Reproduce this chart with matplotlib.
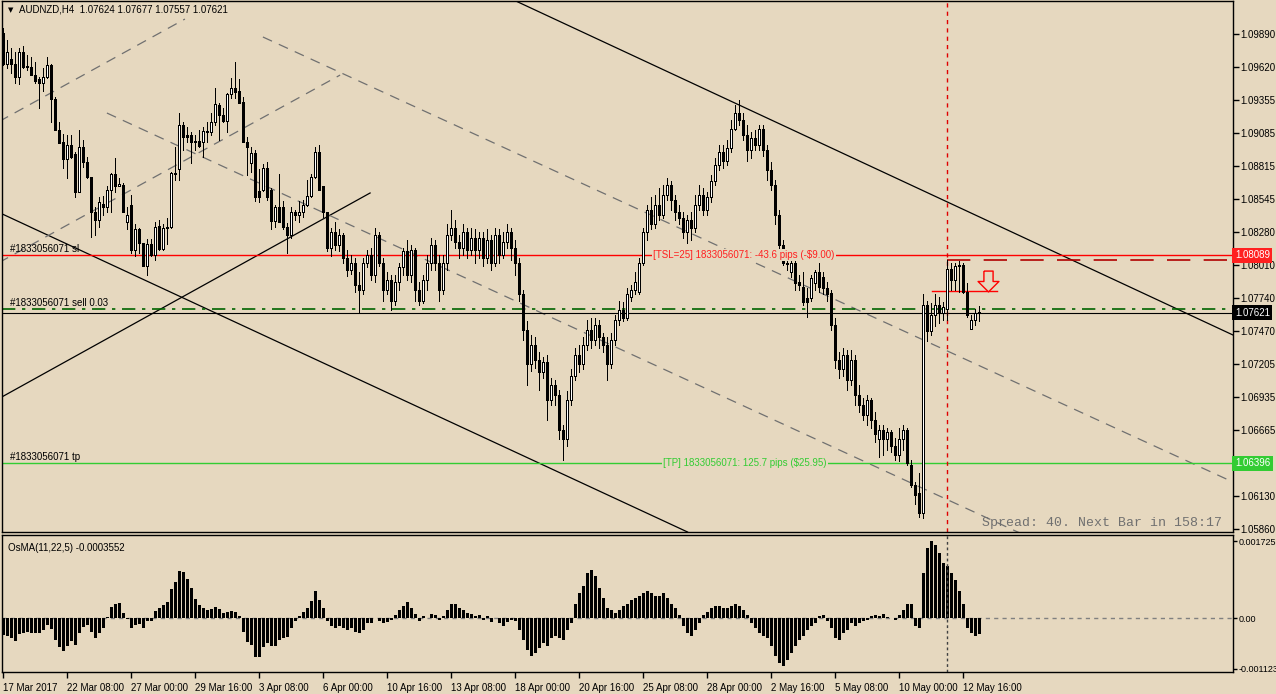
import matplotlib.pyplot as plt
from matplotlib.path import Path
from matplotlib import transforms

plt.rcParams['font.family'] = ['Liberation Sans', 'DejaVu Sans']

BG = '#E6D8BF'

# AUDNZD H4 candles, bar 0 = first bar on the left edge, 245 bars
opens = [1.0990, 1.0965, 1.0969, 1.0965, 1.0954, 1.0974, 1.0963, 1.0962, 1.0956, 1.0952,
         1.0949, 1.0954, 1.0964, 1.0936, 1.0911, 1.0901, 1.0887, 1.0899, 1.0891, 1.0860,
         1.0897, 1.0885, 1.0873, 1.0844, 1.0838, 1.0851, 1.0848, 1.0862, 1.0875, 1.0865,
         1.0866, 1.0836, 1.0850, 1.0813, 1.0830, 1.0819, 1.0800, 1.0818, 1.0809, 1.0833,
         1.0814, 1.0831, 1.0832, 1.0876, 1.0879, 1.0915, 1.0907, 1.0907, 1.0902, 1.0902,
         1.0901, 1.0910, 1.0909, 1.0917, 1.0931, 1.0923, 1.0918, 1.0940, 1.0945, 1.0943,
         1.0934, 1.0901, 1.0884, 1.0892, 1.0861, 1.0862, 1.0880, 1.0862, 1.0837, 1.0848,
         1.0848, 1.0832, 1.0825, 1.0844, 1.0842, 1.0844, 1.0850, 1.0857, 1.0873, 1.0893,
         1.0865, 1.0844, 1.0815, 1.0828, 1.0817, 1.0825, 1.0807, 1.0797, 1.0803, 1.0785,
         1.0781, 1.0803, 1.0809, 1.0793, 1.0825, 1.0803, 1.0781, 1.0789, 1.0772, 1.0787,
         1.0799, 1.0812, 1.0793, 1.0813, 1.0781, 1.0772, 1.0789, 1.0803, 1.0817, 1.0803,
         1.0781, 1.0803, 1.0825, 1.0831, 1.0820, 1.0815, 1.0828, 1.0813, 1.0823, 1.0813,
         1.0823, 1.0807, 1.0821, 1.0803, 1.0825, 1.0809, 1.0820, 1.0828, 1.0815, 1.0803,
         1.0777, 1.0748, 1.0720, 1.0736, 1.0724, 1.0714, 1.0722, 1.0691, 1.0703, 1.0695,
         1.0667, 1.0659, 1.0691, 1.0711, 1.0728, 1.0720, 1.0736, 1.0748, 1.0740, 1.0752,
         1.0742, 1.0736, 1.0720, 1.0740, 1.0756, 1.0764, 1.0758, 1.0775, 1.0781, 1.0779,
         1.0803, 1.0828, 1.0846, 1.0834, 1.0850, 1.0842, 1.0858, 1.0866, 1.0854, 1.0844,
         1.0839, 1.0828, 1.0838, 1.0831, 1.0850, 1.0858, 1.0846, 1.0856, 1.0869, 1.0882,
         1.0893, 1.0886, 1.0896, 1.0912, 1.0925, 1.0919, 1.0907, 1.0895, 1.0904, 1.0899,
         1.0912, 1.0895, 1.0878, 1.0866, 1.0842, 1.0817, 1.0803, 1.0795, 1.0803, 1.0787,
         1.0783, 1.0774, 1.0774, 1.0786, 1.0795, 1.0791, 1.0782, 1.0778, 1.0752, 1.0724,
         1.0716, 1.0728, 1.0707, 1.0724, 1.0695, 1.0687, 1.0679, 1.0691, 1.0675, 1.0659,
         1.0667, 1.0659, 1.0665, 1.0654, 1.0646, 1.0659, 1.0667, 1.0638, 1.0622, 1.0615,
         1.0599, 1.0768, 1.0747, 1.0760, 1.0768, 1.0762, 1.0765, 1.0798, 1.0789, 1.0801,
         1.0801, 1.0779, 1.0749, 1.0756, 1.07624]
highs = [1.0994, 1.0984, 1.0978, 1.0974, 1.0978, 1.0979, 1.0972, 1.0970, 1.0966, 1.0954,
         1.0961, 1.0970, 1.0965, 1.0938, 1.0917, 1.0908, 1.0907, 1.0907, 1.0893, 1.0911,
         1.0903, 1.0889, 1.0873, 1.0848, 1.0856, 1.0857, 1.0865, 1.0876, 1.0888, 1.0872,
         1.0868, 1.0848, 1.0858, 1.0834, 1.0831, 1.0819, 1.0822, 1.0822, 1.0836, 1.0838,
         1.0834, 1.0839, 1.0877, 1.0897, 1.0925, 1.0917, 1.0913, 1.0909, 1.0907, 1.0911,
         1.0913, 1.0917, 1.0925, 1.0945, 1.0933, 1.0929, 1.0941, 1.0953, 1.0966, 1.0952,
         1.0938, 1.0905, 1.0897, 1.0895, 1.0879, 1.0883, 1.0885, 1.0864, 1.0850, 1.0875,
         1.0853, 1.0835, 1.0848, 1.0846, 1.0853, 1.0854, 1.0870, 1.0875, 1.0897, 1.0899,
         1.0865, 1.0844, 1.0831, 1.0836, 1.0830, 1.0827, 1.0813, 1.0809, 1.0807, 1.0795,
         1.0807, 1.0813, 1.0815, 1.0831, 1.0828, 1.0807, 1.0795, 1.0793, 1.0793, 1.0803,
         1.0815, 1.0821, 1.0817, 1.0815, 1.0787, 1.0793, 1.0809, 1.0823, 1.0821, 1.0809,
         1.0809, 1.0834, 1.0846, 1.0838, 1.0825, 1.0834, 1.0831, 1.0831, 1.0830, 1.0828,
         1.0828, 1.0830, 1.0825, 1.0831, 1.0830, 1.0828, 1.0834, 1.0831, 1.0821, 1.0807,
         1.0781, 1.0755, 1.0744, 1.0742, 1.0730, 1.0726, 1.0728, 1.0709, 1.0707, 1.0699,
         1.0671, 1.0698, 1.0716, 1.0733, 1.0736, 1.0742, 1.0756, 1.0758, 1.0758, 1.0756,
         1.0746, 1.0742, 1.0746, 1.0760, 1.0772, 1.0771, 1.0782, 1.0785, 1.0795, 1.0807,
         1.0831, 1.0850, 1.0856, 1.0858, 1.0864, 1.0866, 1.0872, 1.0869, 1.0858, 1.0850,
         1.0844, 1.0842, 1.0844, 1.0858, 1.0866, 1.0864, 1.0860, 1.0874, 1.0888, 1.0899,
         1.0899, 1.0903, 1.0919, 1.0931, 1.0935, 1.0925, 1.0915, 1.0909, 1.0911, 1.0915,
         1.0915, 1.0899, 1.0885, 1.0870, 1.0846, 1.0821, 1.0804, 1.0807, 1.0804, 1.0793,
         1.0795, 1.0782, 1.0793, 1.0797, 1.0803, 1.0795, 1.0787, 1.0781, 1.0758, 1.0730,
         1.0733, 1.0732, 1.0732, 1.0728, 1.0703, 1.0693, 1.0695, 1.0693, 1.0681, 1.0671,
         1.0671, 1.0668, 1.0667, 1.0660, 1.0668, 1.0671, 1.0668, 1.0642, 1.0624, 1.0632,
         1.0777, 1.0772, 1.0770, 1.0777, 1.0775, 1.0771, 1.0805, 1.0803, 1.0803, 1.0804,
         1.0803, 1.0786, 1.0760, 1.0765, 1.07677]
lows = [1.0964, 1.0961, 1.0957, 1.0949, 1.0948, 1.0961, 1.0960, 1.0956, 1.0949, 1.0929,
        1.0943, 1.0953, 1.0917, 1.0911, 1.0900, 1.0880, 1.0872, 1.0888, 1.0856, 1.0860,
        1.0881, 1.0872, 1.0824, 1.0825, 1.0832, 1.0842, 1.0844, 1.0844, 1.0860, 1.0865,
        1.0844, 1.0830, 1.0811, 1.0808, 1.0811, 1.0800, 1.0793, 1.0808, 1.0805, 1.0813,
        1.0813, 1.0818, 1.0831, 1.0870, 1.0870, 1.0895, 1.0901, 1.0884, 1.0895, 1.0897,
        1.0889, 1.0901, 1.0907, 1.0915, 1.0903, 1.0917, 1.0909, 1.0937, 1.0937, 1.0933,
        1.0901, 1.0874, 1.0877, 1.0853, 1.0852, 1.0861, 1.0854, 1.0830, 1.0832, 1.0836,
        1.0830, 1.0811, 1.0823, 1.0838, 1.0836, 1.0840, 1.0849, 1.0856, 1.0872, 1.0862,
        1.0840, 1.0812, 1.0808, 1.0813, 1.0812, 1.0803, 1.0792, 1.0794, 1.0779, 1.0763,
        1.0777, 1.0799, 1.0789, 1.0787, 1.0800, 1.0772, 1.0777, 1.0764, 1.0768, 1.0781,
        1.0793, 1.0789, 1.0787, 1.0772, 1.0768, 1.0770, 1.0781, 1.0797, 1.0797, 1.0772,
        1.0777, 1.0797, 1.0821, 1.0815, 1.0807, 1.0809, 1.0807, 1.0809, 1.0803, 1.0807,
        1.0800, 1.0803, 1.0797, 1.0800, 1.0803, 1.0807, 1.0815, 1.0805, 1.0793, 1.0772,
        1.0740, 1.0703, 1.0715, 1.0717, 1.0699, 1.0709, 1.0675, 1.0687, 1.0687, 1.0659,
        1.0642, 1.0654, 1.0687, 1.0707, 1.0714, 1.0716, 1.0732, 1.0733, 1.0736, 1.0733,
        1.0730, 1.0707, 1.0717, 1.0736, 1.0752, 1.0755, 1.0756, 1.0772, 1.0777, 1.0777,
        1.0801, 1.0821, 1.0830, 1.0831, 1.0838, 1.0839, 1.0854, 1.0846, 1.0838, 1.0834,
        1.0823, 1.0819, 1.0821, 1.0828, 1.0846, 1.0842, 1.0842, 1.0852, 1.0866, 1.0878,
        1.0880, 1.0882, 1.0893, 1.0911, 1.0915, 1.0903, 1.0886, 1.0888, 1.0895, 1.0895,
        1.0890, 1.0870, 1.0862, 1.0834, 1.0813, 1.0801, 1.0797, 1.0791, 1.0781, 1.0781,
        1.0768, 1.0759, 1.0772, 1.0781, 1.0779, 1.0777, 1.0772, 1.0748, 1.0717, 1.0709,
        1.0711, 1.0699, 1.0703, 1.0687, 1.0681, 1.0675, 1.0671, 1.0668, 1.0657, 1.0645,
        1.0646, 1.0650, 1.0649, 1.0642, 1.0641, 1.0650, 1.0638, 1.0620, 1.0606, 1.0596,
        1.0595, 1.0739, 1.0744, 1.0751, 1.0754, 1.0756, 1.0756, 1.0781, 1.0781, 1.0779,
        1.0778, 1.0759, 1.0749, 1.0752, 1.07557]
closes = [1.0965, 1.0974, 1.0965, 1.0954, 1.0974, 1.0962, 1.0962, 1.0956, 1.0951, 1.0949,
          1.0954, 1.0964, 1.0936, 1.0911, 1.0900, 1.0887, 1.0899, 1.0889, 1.0860, 1.0897,
          1.0885, 1.0873, 1.0844, 1.0838, 1.0852, 1.0848, 1.0862, 1.0875, 1.0865, 1.0867,
          1.0844, 1.0842, 1.0813, 1.0830, 1.0819, 1.0800, 1.0818, 1.0809, 1.0832, 1.0814,
          1.0831, 1.0832, 1.0876, 1.0875, 1.0915, 1.0905, 1.0905, 1.0901, 1.0901, 1.0898,
          1.0910, 1.0909, 1.0917, 1.0932, 1.0923, 1.0918, 1.0940, 1.0945, 1.0942, 1.0933,
          1.0901, 1.0897, 1.0892, 1.0856, 1.0856, 1.0880, 1.0856, 1.0837, 1.0848, 1.0836,
          1.0832, 1.0825, 1.0844, 1.0842, 1.0844, 1.0850, 1.0857, 1.0873, 1.0893, 1.0862,
          1.0844, 1.0815, 1.0828, 1.0817, 1.0825, 1.0807, 1.0797, 1.0803, 1.0785, 1.0781,
          1.0803, 1.0809, 1.0793, 1.0825, 1.0803, 1.0781, 1.0789, 1.0772, 1.0787, 1.0799,
          1.0812, 1.0793, 1.0813, 1.0781, 1.0772, 1.0789, 1.0803, 1.0817, 1.0803, 1.0781,
          1.0803, 1.0825, 1.0831, 1.0820, 1.0815, 1.0828, 1.0813, 1.0823, 1.0813, 1.0823,
          1.0807, 1.0821, 1.0803, 1.0825, 1.0809, 1.0820, 1.0828, 1.0815, 1.0803, 1.0777,
          1.0748, 1.0720, 1.0736, 1.0724, 1.0714, 1.0722, 1.0691, 1.0703, 1.0695, 1.0667,
          1.0659, 1.0691, 1.0711, 1.0728, 1.0720, 1.0736, 1.0748, 1.0740, 1.0752, 1.0742,
          1.0736, 1.0720, 1.0740, 1.0756, 1.0764, 1.0758, 1.0777, 1.0781, 1.0787, 1.0803,
          1.0828, 1.0846, 1.0834, 1.0850, 1.0842, 1.0858, 1.0866, 1.0854, 1.0844, 1.0839,
          1.0828, 1.0838, 1.0831, 1.0850, 1.0858, 1.0846, 1.0856, 1.0869, 1.0882, 1.0893,
          1.0886, 1.0896, 1.0912, 1.0925, 1.0919, 1.0907, 1.0895, 1.0904, 1.0899, 1.0912,
          1.0895, 1.0878, 1.0866, 1.0842, 1.0817, 1.0803, 1.0802, 1.0803, 1.0786, 1.0785,
          1.0771, 1.0771, 1.0790, 1.0795, 1.0783, 1.0782, 1.0777, 1.0752, 1.0724, 1.0716,
          1.0728, 1.0707, 1.0724, 1.0695, 1.0687, 1.0679, 1.0691, 1.0675, 1.0663, 1.0667,
          1.0659, 1.0665, 1.0654, 1.0646, 1.0659, 1.0667, 1.0640, 1.0622, 1.0614, 1.0599,
          1.0768, 1.0747, 1.0760, 1.0768, 1.0762, 1.0767, 1.0798, 1.0789, 1.0800, 1.0800,
          1.0779, 1.0760, 1.0756, 1.0762, 1.07621]

# OsMA(11,22,5) histogram
osma = [-0.00037, -0.00039, -0.00045, -0.00050, -0.00036, -0.00033, -0.00030, -0.00032, -0.00033, -0.00033,
        -0.00026, -0.00015, -0.00025, -0.00048, -0.00063, -0.00074, -0.00062, -0.00051, -0.00060, -0.00032,
        -0.00019, -0.00016, -0.00031, -0.00043, -0.00033, -0.00022, 0.00002, 0.00026, 0.00032, 0.00035,
        0.00011, -0.00002, -0.00021, -0.00015, -0.00013, -0.00022, -0.00007, -0.00005, 0.00017, 0.00022,
        0.00030, 0.00037, 0.00065, 0.00080, 0.00106, 0.00103, 0.00087, 0.00067, 0.00043, 0.00030,
        0.00022, 0.00019, 0.00020, 0.00025, 0.00020, 0.00011, 0.00015, 0.00016, 0.00015, 0.00005,
        -0.00030, -0.00052, -0.00060, -0.00086, -0.00086, -0.00063, -0.00056, -0.00061, -0.00061, -0.00048,
        -0.00045, -0.00041, -0.00021, -0.00007, 0.00005, 0.00015, 0.00022, 0.00039, 0.00060, 0.00040,
        0.00022, -0.00007, -0.00018, -0.00022, -0.00018, -0.00022, -0.00027, -0.00022, -0.00031, -0.00033,
        -0.00027, -0.00011, -0.00011, 0.00000, -0.00007, -0.00011, -0.00009, -0.00004, 0.00007, 0.00018,
        0.00027, 0.00036, 0.00022, 0.00009, -0.00007, 0.00004, 0.00001, 0.00009, 0.00007, -0.00004,
        0.00004, 0.00018, 0.00031, 0.00031, 0.00022, 0.00018, 0.00011, 0.00009, 0.00004, 0.00007,
        -0.00004, 0.00004, -0.00009, 0.00001, -0.00011, -0.00018, -0.00009, -0.00004, -0.00007, -0.00027,
        -0.00049, -0.00071, -0.00085, -0.00078, -0.00067, -0.00056, -0.00062, -0.00045, -0.00040, -0.00045,
        -0.00049, -0.00027, -0.00011, 0.00033, 0.00056, 0.00071, 0.00100, 0.00107, 0.00094, 0.00067,
        0.00045, 0.00022, 0.00018, 0.00011, 0.00018, 0.00027, 0.00033, 0.00040, 0.00045, 0.00049,
        0.00056, 0.00060, 0.00056, 0.00049, 0.00049, 0.00056, 0.00045, 0.00033, 0.00022, 0.00007,
        -0.00018, -0.00033, -0.00040, -0.00027, -0.00011, 0.00007, 0.00013, 0.00022, 0.00027, 0.00027,
        0.00022, 0.00022, 0.00027, 0.00031, 0.00027, 0.00018, 0.00007, -0.00011, -0.00022, -0.00033,
        -0.00040, -0.00045, -0.00062, -0.00085, -0.00100, -0.00107, -0.00094, -0.00078, -0.00062, -0.00049,
        -0.00040, -0.00027, -0.00018, -0.00011, 0.00004, 0.00007, -0.00007, -0.00022, -0.00045, -0.00049,
        -0.00033, -0.00027, -0.00011, -0.00018, -0.00011, -0.00007, -0.00004, 0.00004, 0.00007, 0.00004,
        0.00009, 0.00002, 0.00001, -0.00004, 0.00007, 0.00018, 0.00031, 0.00033, -0.00018, -0.00022,
        0.00100, 0.00156, 0.00172, 0.00163, 0.00145, 0.00123, 0.00116, 0.00100, 0.00085, 0.00062,
        0.00033, -0.00022, -0.00033, -0.00040, -0.00036]

price_ticks = [1.09890, 1.09620, 1.09355, 1.09085, 1.08815, 1.08545, 1.08280, 1.08010,
               1.07740, 1.07470, 1.07205, 1.06935, 1.06665, 1.06130, 1.05860]
osma_ticks = [0.001725, 0.0, -0.001123]
osma_tick_labels = ['0.001725', '0.00', '-0.001123']
date_labels = ['17 Mar 2017', '22 Mar 08:00', '27 Mar 00:00', '29 Mar 16:00', '3 Apr 08:00',
               '6 Apr 00:00', '10 Apr 16:00', '13 Apr 08:00', '18 Apr 00:00', '20 Apr 16:00',
               '25 Apr 08:00', '28 Apr 00:00', '2 May 16:00', '5 May 08:00', '10 May 00:00',
               '12 May 16:00']
date_bars = [0, 16, 32, 48, 64, 80, 96, 112, 128, 144, 160, 176, 192, 208, 224, 240]

# order levels
sl_price = 1.08089
entry_price = 1.07650
bid_price = 1.07621
tp_price = 1.06396
trail_price = 1.08050
trail_start = 236
stop2_price = 1.07800
stop2_bars = (232.2, 248.4)
signal_bar = 236
arrow_bar, arrow_price = 246.2, 1.07880

# trend lines (bar, price)
line_solid_a = [(127.4, 1.10170), (307.4, 1.07440)]
line_solid_b = [(0.0, 1.08421), (170.0, 1.05852)]
line_solid_up = [(-1.0, 1.06924), (91.7, 1.08596)]
dash_up_1 = [(-1.0, 1.09179), (45.4, 1.10012)]
dash_up_2 = [(-1.0, 1.08031), (84.2, 1.09556)]
dash_down_1 = [(64.9, 1.09866), (307.4, 1.06243)]
dash_down_2 = [(25.9, 1.09247), (260.0, 1.05740)]

W, H = 1276, 694
fig = plt.figure(figsize=(W / 100, H / 100), dpi=100, facecolor=BG)


def box(l, t, r, b):
    return [l / W, 1 - b / H, (r - l) / W, (b - t) / H]


ax = fig.add_axes(box(2, 1, 1233, 532), facecolor=BG)
ax2 = fig.add_axes(box(2, 535, 1233, 672), facecolor=BG)

xmin, xmax = -0.325, 307.425
ax.set_xlim(xmin, xmax)
ax.set_ylim(1.05836, 1.10159)
ax2.set_xlim(xmin, xmax)
ax2.set_ylim(-0.001199, 0.001859)

for a in (ax, ax2):
    for s in a.spines.values():
        s.set_color('black')
        s.set_linewidth(1.0)

# trend lines
for seg in (line_solid_a, line_solid_b):
    ax.axline(seg[0], seg[1], color='black', lw=0.9)
ax.plot([p[0] for p in line_solid_up], [p[1] for p in line_solid_up], color='black', lw=0.9)
for seg in (dash_up_1, dash_up_2, dash_down_1, dash_down_2):
    ax.plot([p[0] for p in seg], [p[1] for p in seg], color='#707070', lw=0.9,
            dashes=(8, 6))

# horizontal order lines
ax.axhline(sl_price, color='#FF0000', lw=1.0)
ax.axhline(entry_price, color='#006400', lw=1.2, dashes=(8, 4, 2, 4))
ax.axhline(bid_price, color='black', lw=0.8)
ax.axhline(tp_price, color='#32CD32', lw=1.0)
ax.plot([trail_start, xmax], [trail_price, trail_price], color='#B00000', lw=1.2,
        dashes=(14, 8))
ax.plot(stop2_bars, [stop2_price, stop2_price], color='#FF0000', lw=1.0)
ax.axvline(signal_bar, color='#E00000', lw=1.0, dashes=(3, 3))
ax2.axvline(signal_bar, color='#404040', lw=1.0, dashes=(2, 2))

# candles
n = min(len(opens), len(highs), len(lows), len(closes))
x = list(range(n))
ax.vlines(x, lows[:n], highs[:n], color='black', lw=0.72, antialiased=False, zorder=3)
bottoms = [min(o, c) for o, c in zip(opens, closes)]
heights = [max(abs(c - o), 0.00002) for o, c in zip(opens, closes)]
fills = ['white' if c >= o else 'black' for o, c in zip(opens, closes)]
ax.bar(x, heights[:n], bottom=bottoms[:n], width=0.5, color=fills[:n], edgecolor='black',
       linewidth=0.72, antialiased=False, zorder=4)

# arrow
arrow = Path([(-0.22, 0.5), (0.22, 0.5), (0.22, 0.0), (0.5, 0.0), (0.0, -0.5),
              (-0.5, 0.0), (-0.22, 0.0), (-0.22, 0.5)])
ax.plot([arrow_bar], [arrow_price], marker=arrow, markersize=15, markerfacecolor=BG,
        markeredgecolor='#FF0000', markeredgewidth=1.0, zorder=5)

# right axis
ax.yaxis.tick_right()
ax.set_yticks(price_ticks)
ax.set_yticklabels(['%.5f' % p for p in price_ticks])
ax.tick_params(axis='y', direction='out', length=4, width=1, pad=1.5, labelsize=7)
ax.set_xticks([])

trans = transforms.blended_transform_factory(ax.transAxes, ax.transData)
for price, fc in ((sl_price, '#FF2020'), (bid_price, 'black'), (tp_price, '#33CC33')):
    ax.text(1.0015, price, '%.5f' % price, transform=trans, ha='left', va='center',
            fontsize=7, color='white', zorder=10, clip_on=False,
            bbox=dict(boxstyle='square,pad=0.25', fc=fc, ec='none'))

# order labels
ax.text(1.7, sl_price + 0.00012, '#1833056071 sl', fontsize=7, va='bottom', color='black')
ax.text(1.7, entry_price + 0.00012, '#1833056071 sell 0.03', fontsize=7, va='bottom', color='black')
ax.text(1.7, tp_price + 0.00012, '#1833056071 tp', fontsize=7, va='bottom', color='black')
ax.text(162.5, sl_price, '[TSL=25] 1833056071: -43.6 pips (-$9.00)', fontsize=7,
        va='center', color='#FF2020', zorder=6,
        bbox=dict(boxstyle='square,pad=0.1', fc=BG, ec='none'))
ax.text(165.0, tp_price, '[TP] 1833056071: 125.7 pips ($25.95)', fontsize=7,
        va='center', color='#33CC33', zorder=6,
        bbox=dict(boxstyle='square,pad=0.1', fc=BG, ec='none'))

fig.text(19 / W, 1 - 10 / H, 'AUDNZD,H4  1.07624 1.07677 1.07557 1.07621', fontsize=7,
         va='center', ha='left', color='black')
fig.text(8 / W, 1 - 10 / H, '\u25bc', fontsize=5, va='center', ha='left', color='black',
         family='DejaVu Sans')
ax.text(0.991, 0.017, 'Spread: 40. Next Bar in 158:17', transform=ax.transAxes,
        ha='right', va='center', fontsize=9.5, color='#707070', family='Liberation Mono')

# OsMA panel
ax2.bar(range(len(osma)), osma, width=0.65, color='black', antialiased=False)
ax2.axhline(0, color='#808080', lw=1.0, dashes=(3, 3), zorder=0)
ax2.yaxis.tick_right()
ax2.set_yticks(osma_ticks)
ax2.set_yticklabels(osma_tick_labels)
ax2.tick_params(axis='y', direction='out', length=3, width=1, pad=1, labelsize=6.5)
ax2.set_xticks(date_bars)
ax2.set_xticklabels(date_labels, ha='left')
ax2.tick_params(axis='x', direction='out', length=4, width=1, pad=4, labelsize=7)
ax2.text(0.005, 0.94, 'OsMA(11,22,5) -0.0003552', transform=ax2.transAxes, fontsize=7,
         va='top', ha='left', color='black')

fig.savefig('out.png', dpi=100, facecolor=BG)
